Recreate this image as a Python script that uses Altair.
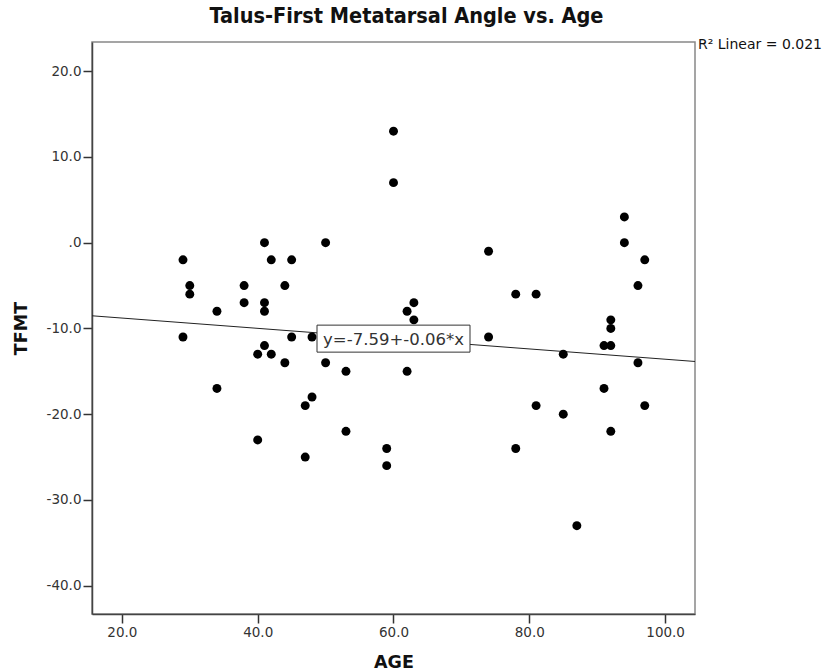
import altair as alt
import pandas as pd

# Data
age = [29, 29, 30, 30, 34, 34, 38, 38, 40, 40, 41, 41, 41, 41, 42, 42, 44, 44,
       45, 45, 47, 47, 48, 48, 50, 50, 53, 53, 59, 59, 60, 60, 62, 62, 63, 63,
       74, 74, 78, 78, 81, 81, 85, 85, 87, 91, 91, 92, 92, 92, 92, 94, 94, 96,
       96, 97, 97]
tfmt = [-2, -11, -5, -6, -8, -17, -5, -7, -13, -23, 0, -7, -8, -12, -2, -13, -5, -14,
        -2, -11, -19, -25, -11, -18, 0, -14, -15, -22, -24, -26, 13, 7, -8, -15, -7, -9,
        -1, -11, -6, -24, -6, -19, -13, -20, -33, -12, -17, -9, -10, -12, -22, 3, 0, -5,
        -14, -2, -19]

# Fit line as printed on the chart
intercept = -7.59
slope = -0.06
eq_text = "y=-7.59+-0.06*x"
r2_text = "R\u00b2 Linear = 0.021"
title_text = "Talus-First Metatarsal Angle vs. Age"

x_domain = [15.6, 104.4]
y_domain = [-43.3, 23.4]
x_ticks = [20, 40, 60, 80, 100]
y_ticks = [-40, -30, -20, -10, 0, 10, 20]

W, H = 603, 572

df = pd.DataFrame({"AGE": age, "TFMT": tfmt})
line_df = pd.DataFrame({"AGE": x_domain})
label_df = pd.DataFrame({"AGE": [(x_domain[0] + x_domain[1]) / 2], "txt": [eq_text]})

xs = alt.Scale(domain=x_domain, nice=False, zero=False)
ys = alt.Scale(domain=y_domain, nice=False, zero=False)

label_expr = ("datum.value == 0 ? '.0' : (datum.value < 0 ? '-' : '') + "
              "format(abs(datum.value), '.1f')")

FONT = "DejaVu Sans"
COND = "DejaVu Sans Condensed, Liberation Sans Narrow, DejaVu Sans"

x_axis = alt.Axis(values=x_ticks, labelExpr=label_expr, grid=False,
                  tickSize=9, tickWidth=1.5, tickColor="#333",
                  labelPadding=2, labelFontSize=13.5, labelFont=FONT, labelColor="#333",
                  domainColor="#444", domainWidth=1.5,
                  title="AGE", titleFont=FONT, titleFontSize=17.5,
                  titleFontWeight="bold", titleColor="#111", titlePadding=15)
y_axis = alt.Axis(values=y_ticks, labelExpr=label_expr, grid=False,
                  tickSize=9, tickWidth=1.5, tickColor="#333",
                  labelPadding=2, labelFontSize=13.5, labelFont=FONT, labelColor="#333",
                  domainColor="#444", domainWidth=1.5,
                  title="TFMT", titleFont=FONT, titleFontSize=17.5,
                  titleFontWeight="bold", titleColor="#111", titlePadding=16)

points = alt.Chart(df).mark_circle(size=80, color="black", opacity=1).encode(
    x=alt.X("AGE:Q", scale=xs, axis=x_axis),
    y=alt.Y("TFMT:Q", scale=ys, axis=y_axis),
)

fit = alt.Chart(line_df).transform_calculate(
    TFMT=f"{intercept} + ({slope}) * datum.AGE"
).mark_line(color="#222", strokeWidth=1).encode(
    x=alt.X("AGE:Q", scale=xs),
    y=alt.Y("TFMT:Q", scale=ys),
)

box_path = "M-1,-0.1765L1,-0.1765L1,0.1765L-1,0.1765Z"
box = alt.Chart(label_df).transform_calculate(
    TFMT=f"{intercept} + ({slope}) * datum.AGE"
).mark_point(shape=box_path, size=153 * 153, filled=True, fill="white",
             stroke="#333", strokeWidth=1, opacity=1, fillOpacity=1).encode(
    x=alt.X("AGE:Q", scale=xs),
    y=alt.Y("TFMT:Q", scale=ys),
)

eq_label = alt.Chart(label_df).transform_calculate(
    TFMT=f"{intercept} + ({slope}) * datum.AGE"
).mark_text(font=FONT, fontSize=16.5, color="#333", align="center", baseline="middle", dy=1).encode(
    x=alt.X("AGE:Q", scale=xs),
    y=alt.Y("TFMT:Q", scale=ys),
    text="txt:N",
)

r2 = alt.Chart(pd.DataFrame({"t": [r2_text]})).mark_text(
    font=FONT, fontSize=14, color="#111", align="left", baseline="middle"
).encode(x=alt.value(W + 3), y=alt.value(3), text="t:N")

chart = alt.layer(fit, points, box, eq_label, r2).properties(
    width=W, height=H,
    title=alt.TitleParams(title_text, font=COND, fontSize=21.5, fontWeight="bold",
                          color="#111", anchor="middle", offset=11, dx=13),
    autosize=alt.AutoSizeParams(type="none"),
    padding={"left": 92, "top": 42, "right": 826 - 92 - W, "bottom": 672 - 42 - H},
).configure_view(stroke="#888", strokeWidth=1.5)

chart.save("out.html", embed_options={"renderer": "svg", "actions": False})
